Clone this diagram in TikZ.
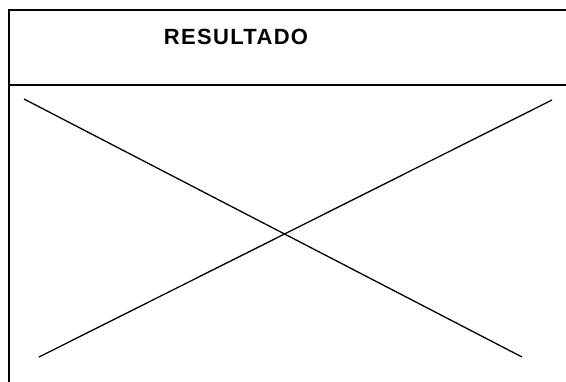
\documentclass[tikz,border=0pt]{standalone}
\usepackage{fontspec}
\setmainfont{Liberation Sans}
\begin{document}
\begin{tikzpicture}[x=1pt,y=-1pt,line width=1.3pt]
      \useasboundingbox (0,0) rectangle (566,381);
      \clip (0,0) rectangle (566,381);
      \draw[line width=1.8pt] (9,10) rectangle (600,400)
        (9,85)--(600,85);
      \node[font=\fontsize{22}{26}\selectfont\bfseries\addfontfeature{LetterSpace=6}] (titulo) at (236,37) {RESULTADO};
      \coordinate (a) at (24,99);
      \coordinate (b) at (522,357);
      \coordinate (c) at (552,100);
      \coordinate (d) at (39,357);
      \draw (a)--(b) (c)--(d);
    \end{tikzpicture}
\end{document}
